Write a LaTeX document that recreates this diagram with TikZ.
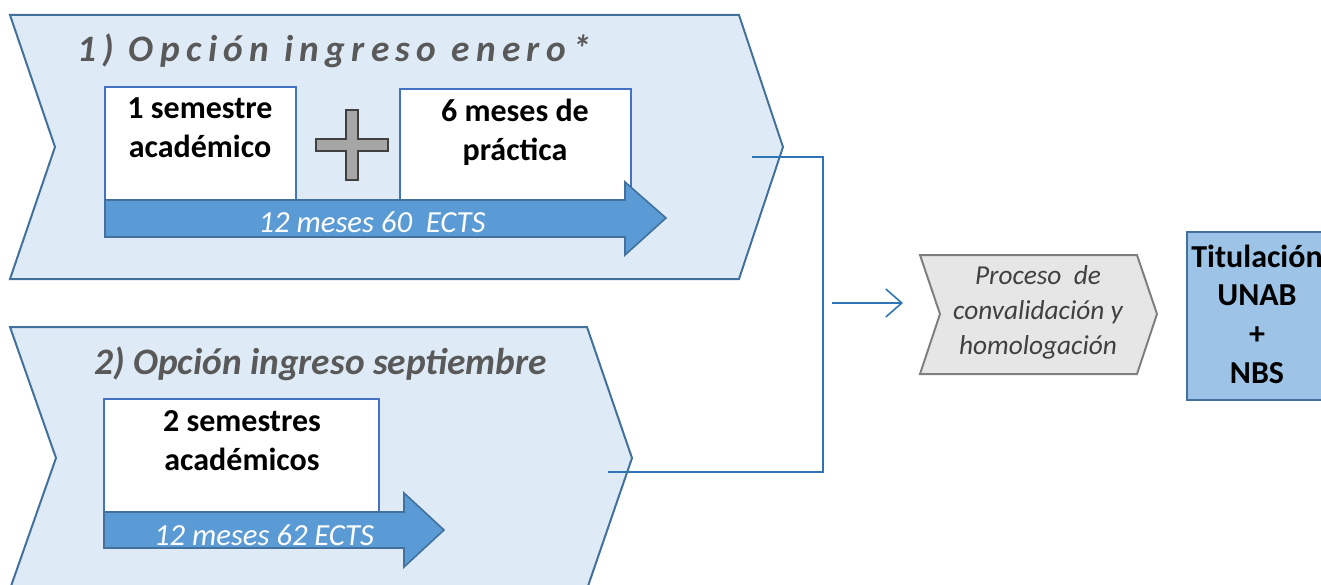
\documentclass[tikz,border=0pt]{standalone}
\usepackage{fontspec}
\setmainfont{Carlito}
\newfontfamily\spacedfont[LetterSpace=17]{Carlito}
\usetikzlibrary{positioning,arrows.meta}
\definecolor{chevfill}{HTML}{DEEBF7}
\definecolor{chevline}{HTML}{41719C}
\definecolor{boxline}{HTML}{4472C4}
\definecolor{arrfill}{HTML}{5B9BD5}
\definecolor{plusfill}{HTML}{A6A6A6}
\definecolor{plusline}{HTML}{404040}
\definecolor{titlegray}{HTML}{595959}
\definecolor{procfill}{HTML}{E7E6E6}
\definecolor{procline}{HTML}{7F7F7F}
\definecolor{titfill}{HTML}{9DC3E6}
\definecolor{connline}{HTML}{2E75B6}
\begin{document}
\begin{tikzpicture}[x=0.75pt, y=-0.75pt,
    chev/.style = {fill=chevfill, draw=chevline, line width=1.5pt, line join=miter},
    wbox/.style = {fill=white, draw=boxline, line width=1.5pt},
    bigarrow/.style = {fill=arrfill, draw=chevline, line width=1.2pt},
    boxtext/.style = {align=center, font=\fontsize{24}{29}\selectfont\bfseries, inner sep=0pt},
    arrtext/.style = {text=white, font=\fontsize{23}{28}\selectfont\itshape, inner sep=0pt},
    optitle/.style = {text=titlegray, font=\fontsize{28}{33}\selectfont\bfseries\itshape, inner sep=0pt},
    conn/.style = {draw=connline, line width=0.8pt}]
	\useasboundingbox (0,0) rectangle (1321,585);
	\clip (0,0) rectangle (1321,585);
	% option 1
	\draw[chev] (10,15) -- (739,15) -- (783,147) -- (739,279) -- (10,279) -- (55,147) -- cycle;
	\node[optitle, anchor=base west] (t1) at (77,62) {\spacedfont 1) Opción ingreso enero*};
	\draw[wbox] (105,87) rectangle (296,200);
	\draw[wbox] (400,89) rectangle (631,200);
	\node[boxtext, anchor=base] (s1) at (200,157) {1 semestre\\académico};
	\node[boxtext, anchor=base] (p1) at (515,160) {6 meses de\\práctica};
	\draw[fill=plusfill, draw=plusline, line width=1.5pt] (346,110) -- (358,110) -- (358,139) -- (388,139) -- (388,151) -- (358,151) -- (358,180) -- (346,180) -- (346,151) -- (316,151) -- (316,139) -- (346,139) -- cycle;
	\draw[bigarrow] (105,200) -- (625,200) -- (625,182) -- (666,218) -- (625,255) -- (625,237) -- (105,237) -- cycle;
	\node[arrtext, anchor=base] (e1) at (372,232) {12 meses 60 \ ECTS};
	% option 2
	\draw[chev] (10,327) -- (587,327) -- (632,458) -- (587,589) -- (10,589) -- (56,458) -- cycle;
	\node[optitle, anchor=base west] (t2) at (94,374) {2) Opción ingreso septiembre};
	\draw[wbox] (104,399) rectangle (379,512);
	\node[boxtext, anchor=base] (s2) at (242,470) {2 semestres\\académicos};
	\draw[bigarrow] (104,512) -- (404,512) -- (404,493) -- (444,530) -- (404,567) -- (404,548) -- (104,548) -- cycle;
	\node[arrtext, anchor=base] (e2) at (264,545) {12 meses 62 ECTS};
	% process and degree
	\draw[fill=procfill, draw=procline, line width=1.5pt] (920,255) -- (1137,255) -- (1157,314) -- (1137,374) -- (920,374) -- (940,314) -- cycle;
	\node[align=center, text=plusline, inner sep=0pt, anchor=base, font=\fontsize{20.5}{26}\selectfont\itshape] (proc) at (1038,354) {Proceso \ de\\convalidación y\\homologación};
	\node[draw=chevline, fill=titfill, line width=1.5pt, anchor=north west, minimum width=106.5pt, minimum height=126pt, inner sep=0pt] (tit) at (1186,231) {};
	\node[boxtext, anchor=base] (titx) at (1257,383) {Titulación\\UNAB\\+\\NBS};
	% connectors
	\coordinate (from1) at (752,157);
	\coordinate (from2) at (608,472);
	\coordinate (bend) at (823,303);
	\coordinate (gap) at (832,303);
	\coordinate (procin) at (903,303);
	\draw[conn] (from1) -| (bend) |- (from2);
	\draw[conn, line width=1.2pt, -{Straight Barb[length=12pt, width=21pt]}] (gap) -- (procin);
\end{tikzpicture}
\end{document}
